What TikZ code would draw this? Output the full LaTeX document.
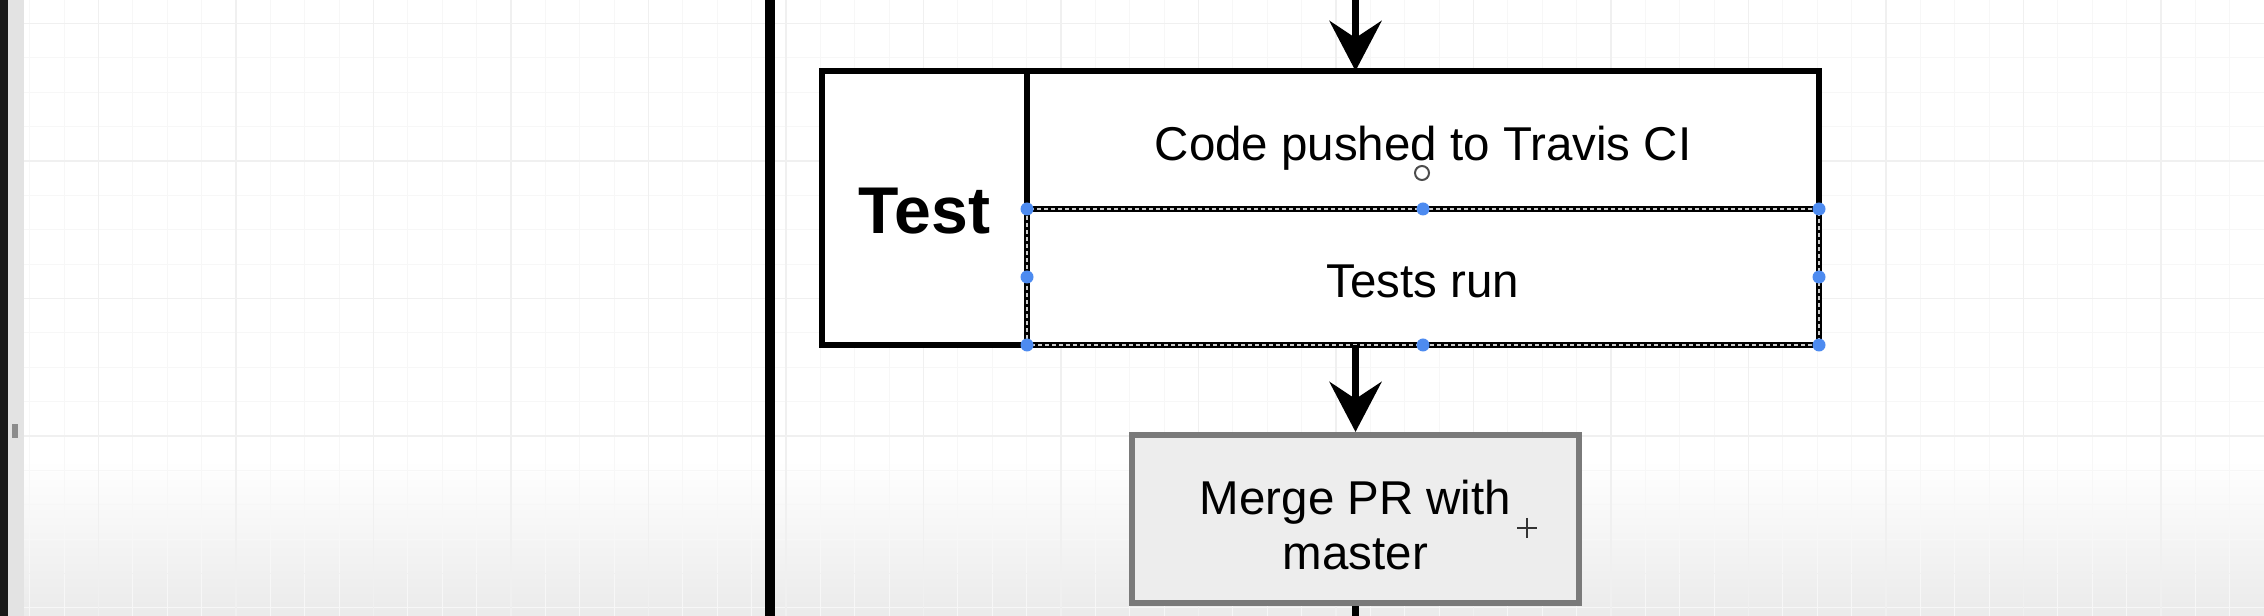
\documentclass[tikz,border=0pt]{standalone}
\usepackage{fontspec}
\setmainfont{Liberation Sans}
\usepackage{tikz}
\usetikzlibrary{arrows.meta}
\usepackage{xcolor}
\definecolor{handleblue}{RGB}{77,139,240}
\definecolor{mergefill}{RGB}{237,237,237}
\definecolor{mergeedge}{RGB}{122,122,122}

\begin{document}
\begin{tikzpicture}[x=0.01cm, y=-0.01cm, >={Stealth[length=0.5cm, width=0.52cm, inset=0.17cm]},
        cell/.style={draw=black, fill=white, line width=0.06cm, outer sep=0pt, inner sep=0pt,
            font=\fontsize{13.5}{16}\selectfont, text height=0.41cm, text depth=0pt},
        flow/.style={->, line width=0.07cm},
        gridminor/.style={black!3, line width=0.01cm},
        gridmajor/.style={black!6, line width=0.012cm},
        selline/.style={draw=black!20, line width=0.015cm, dash pattern=on 0.04cm off 0.03cm}]
        \useasboundingbox (0,0) rectangle (2264,616);
        % background and grid
        \fill[white] (0,0) rectangle (2264,616);
        \shade[top color=white, bottom color=black!8] (24,460) rectangle (2264,616);
        \fill[black!90] (0,0) rectangle (8,616);
        \fill[black!11] (8,0) rectangle (24,616);
        \fill[black!45] (12,424) rectangle (18,438);
        \foreach \k in {0,...,65} \draw[gridminor] ({29.75+34.375*\k},0) -- ++(0,616);
        \foreach \k in {0,...,17} \draw[gridminor] (24,{23.6+34.375*\k}) -- (2264,{23.6+34.375*\k});
        \foreach \k in {0,...,15} \draw[gridmajor] ({98.5+137.5*\k},0) -- ++(0,616);
        \foreach \k in {0,...,4} \draw[gridmajor] (24,{23.6+137.5*\k}) -- (2264,{23.6+137.5*\k});
        % lane border
        \draw[line width=0.1cm] (770,0) -- (770,616);

        \node (testlabel) [cell, minimum width=2.05cm, minimum height=2.74cm, font=\bfseries\fontsize{18.8}{22}\selectfont, text height=0.5cm] at (924.5,208) {Test};
        \node (pushed) [cell, minimum width=7.92cm, minimum height=1.38cm] at (1423,140) {Code pushed to Travis CI};
        \node (testsrun) [cell, minimum width=7.92cm, minimum height=1.36cm] at (1423,277) {Tests run};
        \node (merge) [draw=mergeedge, fill=mergefill, line width=0.06cm, minimum width=4.47cm, minimum height=1.68cm, align=center, font=\fontsize{13.5}{15.65}\selectfont] at (1355.5,519) {\rule{0pt}{0.47cm}Merge PR with\\master};

        % selection of the lower cell
        \draw[selline] (1027,209) rectangle (1819,345);
        \foreach \p in {(1027,209),(1423,209),(1819,209),(1027,277),(1819,277),(1027,345),(1423,345),(1819,345)}
            \fill[handleblue] \p circle[radius=0.065cm];

        \coordinate (lanetop) at (1355.5,0);
        \coordinate (lanebottom) at (1355.5,616);
        \draw[flow] (lanetop) -- (lanetop |- pushed.north);
        \draw[flow] (merge.north |- testsrun.south) -- (merge.north);
        \draw[line width=0.07cm] (merge.south) -- (lanebottom);

        % cursors
        \draw[black!70, line width=0.02cm] (1422,173) circle[radius=0.07cm];
        \draw[black!80, line width=0.025cm] (1517,528) -- (1537,528) (1527,518) -- (1527,538);
    \end{tikzpicture}
\end{document}
